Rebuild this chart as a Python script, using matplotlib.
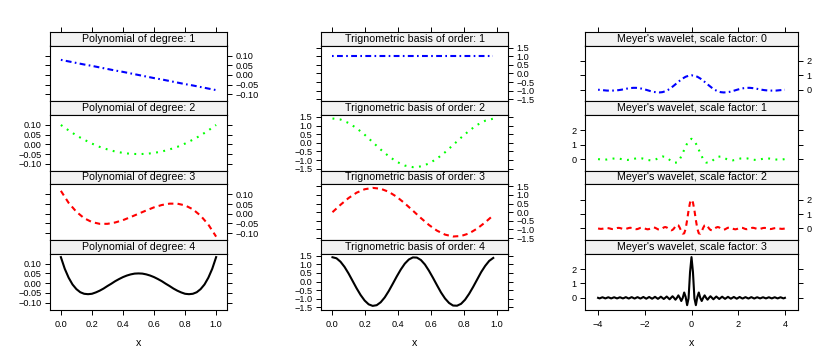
import numpy as np
import matplotlib
matplotlib.use('Agg')
import matplotlib.pyplot as plt

plt.rcParams['font.family'] = ['Liberation Sans', 'DejaVu Sans']

# polynomial basis, x = 0 .. 1 (step 0.05, degree 4 on step 0.025)
x_poly = np.linspace(0, 1, 21)
x_poly_fine = np.linspace(0, 1, 41)
poly_1 = [0.078, 0.070, 0.062, 0.054, 0.047, 0.039, 0.031, 0.023, 0.016, 0.008, 0.0,
          -0.008, -0.016, -0.023, -0.031, -0.039, -0.047, -0.054, -0.062, -0.070, -0.078]
poly_2 = [0.100, 0.072, 0.046, 0.024, 0.004, -0.013, -0.026, -0.037, -0.044, -0.049, -0.050,
          -0.049, -0.044, -0.037, -0.026, -0.013, 0.004, 0.024, 0.046, 0.072, 0.100]
poly_3 = [0.118, 0.056, 0.010, -0.023, -0.043, -0.052, -0.052, -0.045, -0.033, -0.017, 0.0,
          0.017, 0.033, 0.045, 0.052, 0.052, 0.043, 0.023, -0.010, -0.056, -0.118]
poly_4 = [0.134, 0.074, 0.028, -0.007, -0.031, -0.047, -0.055, -0.057, -0.055, -0.048,
          -0.039, -0.028, -0.015, -0.003, 0.010, 0.021, 0.031, 0.039, 0.045, 0.049,
          0.050,
          0.049, 0.045, 0.039, 0.031, 0.021, 0.010, -0.003, -0.015, -0.028, -0.039,
          -0.048, -0.055, -0.057, -0.055, -0.047, -0.031, -0.007, 0.028, 0.074, 0.134]

# trigonometric basis, x = 0 .. 0.98 (order 4 on a grid twice as fine)
x_trig = np.linspace(0, 0.98, 21)
x_trig_fine = np.linspace(0, 0.98, 41)
trig_1 = [1.0] * 21
trig_2 = [1.41, 1.35, 1.15, 0.85, 0.47, 0.04, -0.39, -0.78, -1.10, -1.32, -1.41,
          -1.37, -1.20, -0.92, -0.55, -0.13, 0.30, 0.70, 1.04, 1.28, 1.40]
trig_3 = [0.0, 0.43, 0.82, 1.13, 1.33, 1.41, 1.36, 1.18, 0.89, 0.51, 0.09,
          -0.34, -0.74, -1.07, -1.30, -1.41, -1.38, -1.23, -0.95, -0.59, -0.18]
trig_4 = [1.41, 1.35, 1.15, 0.85, 0.47, 0.04, -0.39, -0.78, -1.10, -1.32, -1.41,
          -1.37, -1.20, -0.92, -0.55, -0.13, 0.30, 0.70, 1.04, 1.28, 1.40,
          1.39, 1.25, 0.99, 0.63, 0.22, -0.21, -0.63, -0.98, -1.24, -1.39,
          -1.40, -1.29, -1.05, -0.71, -0.31, 0.12, 0.55, 0.91, 1.20, 1.37]

# Meyer wavelet, x = -4 .. 4 (coarse step 0.125, fine step 0.0625)
x_mey_coarse = np.linspace(-4, 4, 65)
x_mey_fine = np.linspace(-4, 4, 129)
meyer_0 = [0.0, -0.02, -0.04, -0.06, -0.065, -0.06, -0.05, -0.03, 0.0, 0.04, 0.08, 0.11,
           0.13, 0.13, 0.11, 0.07, 0.02, -0.04, -0.10, -0.15, -0.18, -0.19, -0.17, -0.11,
           -0.01, 0.13, 0.29, 0.46, 0.63, 0.78, 0.90, 0.97,
           1.00,
           0.97, 0.90, 0.78, 0.63, 0.46, 0.29, 0.13, -0.01, -0.11, -0.17, -0.19, -0.18,
           -0.15, -0.10, -0.04, 0.02, 0.07, 0.11, 0.13, 0.13, 0.11, 0.08, 0.04, 0.0,
           -0.03, -0.05, -0.06, -0.065, -0.06, -0.04, -0.02, 0.0]
meyer_1 = [0.0, -0.03, -0.04, -0.03, 0.0, 0.03, 0.05, 0.04, 0.0, -0.04, -0.06, -0.04,
           0.0, 0.05, 0.07, 0.05, 0.0, -0.06, -0.09, -0.07, 0.0, 0.11, 0.18, 0.16,
           0.03, -0.14, -0.25, -0.24, -0.01, 0.41, 0.89, 1.27,
           1.41,
           1.27, 0.89, 0.41, -0.01, -0.24, -0.25, -0.14, 0.03, 0.16, 0.18, 0.11, 0.0,
           -0.07, -0.09, -0.06, 0.0, 0.05, 0.07, 0.05, 0.0, -0.04, -0.06, -0.04, 0.0,
           0.04, 0.05, 0.03, 0.0, -0.03, -0.04, -0.03, 0.0]
meyer_2 = [0.0, -0.02, -0.03, -0.02, 0.0, 0.02, 0.03, 0.02, 0.0, -0.03, -0.04, -0.03,
           0.0, 0.03, 0.04, 0.03, 0.0, -0.03, -0.04, -0.03, 0.0, 0.03, 0.05, 0.03,
           0.0, -0.03, -0.05, -0.04, 0.0, 0.04, 0.05, 0.04, 0.0, -0.04, -0.06, -0.04,
           0.0, 0.05, 0.07, 0.05, 0.0, -0.06, -0.08, -0.06, 0.0, 0.07, 0.10, 0.07,
           0.0, -0.08, -0.13, -0.10, 0.0, 0.16, 0.26, 0.22, 0.04, -0.20, -0.36, -0.34,
           -0.02, 0.58, 1.26, 1.80,
           2.00,
           1.80, 1.26, 0.58, -0.02, -0.34, -0.36, -0.20, 0.04, 0.22, 0.26, 0.16, 0.0,
           -0.10, -0.13, -0.08, 0.0, 0.07, 0.10, 0.07, 0.0, -0.06, -0.08, -0.06, 0.0,
           0.05, 0.07, 0.05, 0.0, -0.04, -0.06, -0.04, 0.0, 0.04, 0.05, 0.04, 0.0,
           -0.04, -0.05, -0.03, 0.0, 0.03, 0.05, 0.03, 0.0, -0.03, -0.04, -0.03, 0.0,
           0.03, 0.04, 0.03, 0.0, -0.03, -0.04, -0.03, 0.0, 0.02, 0.03, 0.02, 0.0,
           -0.02, -0.03, -0.02, 0.0]
meyer_3 = [0.0, -0.04, 0.0, 0.04, 0.0, -0.04, 0.0, 0.04,
           0.0, -0.04, 0.0, 0.04, 0.0, -0.04, 0.0, 0.04,
           0.0, -0.04, 0.0, 0.05, 0.0, -0.05, 0.0, 0.05,
           0.0, -0.05, 0.0, 0.05, 0.0, -0.05, 0.0, 0.06,
           0.0, -0.06, 0.0, 0.06, 0.0, -0.06, 0.0, 0.07,
           0.0, -0.07, 0.0, 0.08, 0.0, -0.08, 0.0, 0.09,
           0.0, -0.10, 0.0, 0.11, 0.0, -0.13, 0.0, 0.17,
           0.0, -0.22, 0.0, 0.37, 0.06, -0.51, -0.03, 1.78,
           2.83,
           1.78, -0.03, -0.51, 0.06, 0.37, 0.0, -0.22, 0.0,
           0.17, 0.0, -0.13, 0.0, 0.11, 0.0, -0.10, 0.0,
           0.09, 0.0, -0.08, 0.0, 0.08, 0.0, -0.07, 0.0,
           0.07, 0.0, -0.06, 0.0, 0.06, 0.0, -0.06, 0.0,
           0.06, 0.0, -0.05, 0.0, 0.05, 0.0, -0.05, 0.0,
           0.05, 0.0, -0.05, 0.0, 0.04, 0.0, -0.04, 0.0,
           0.04, 0.0, -0.04, 0.0, 0.04, 0.0, -0.04, 0.0,
           0.04, 0.0, -0.04, 0.0, 0.04, 0.0, -0.04, 0.0]

poly_titles = ['Polynomial of degree: %d' % i for i in range(1, 5)]
trig_titles = ['Trignometric basis of order: %d' % i for i in range(1, 5)]
meyer_titles = ["Meyer's wavelet, scale factor: %d" % i for i in range(0, 4)]

W, H = 830, 356
fig = plt.figure(figsize=(W / 100, H / 100), dpi=100)

def box(l, t, r, b):
    return [l / W, 1 - b / H, (r - l) / W, (b - t) / H]

colors = ['#0000ff', '#00ff00', '#ff0000', '#000000']
styles = [(0, (0.8, 1.6, 2.8, 1.6)), (0, (0.9, 2.6)), (0, (2.6, 2.0)), '-']

cols = [
    dict(left=50, right=227, xlim=(-0.07, 1.07), ylim=(-0.136, 0.152),
         xticks=[0, 0.2, 0.4, 0.6, 0.8, 1.0], xlabels=['0.0', '0.2', '0.4', '0.6', '0.8', '1.0'],
         yticks=[-0.1, -0.05, 0, 0.05, 0.1], ylabels=['\u22120.10', '\u22120.05', '0.00', '0.05', '0.10'],
         xs=[x_poly, x_poly, x_poly, x_poly_fine], ys=[poly_1, poly_2, poly_3, poly_4],
         titles=poly_titles),
    dict(left=321, right=508, xlim=(-0.07, 1.07), ylim=(-1.62, 1.62),
         xticks=[0, 0.2, 0.4, 0.6, 0.8, 1.0], xlabels=['0.0', '0.2', '0.4', '0.6', '0.8', '1.0'],
         yticks=[-1.5, -1, -0.5, 0, 0.5, 1, 1.5],
         ylabels=['\u22121.5', '\u22121.0', '\u22120.5', '0.0', '0.5', '1.0', '1.5'],
         xs=[x_trig, x_trig, x_trig, x_trig_fine], ys=[trig_1, trig_2, trig_3, trig_4],
         titles=trig_titles),
    dict(left=585, right=798, xlim=(-4.56, 4.56), ylim=(-0.81, 3.07),
         xticks=[-4, -2, 0, 2, 4], xlabels=['\u22124', '\u22122', '0', '2', '4'],
         yticks=[0, 1, 2], ylabels=['0', '1', '2'],
         xs=[x_mey_coarse, x_mey_coarse, x_mey_fine, x_mey_fine],
         ys=[meyer_0, meyer_1, meyer_2, meyer_3], titles=meyer_titles),
]

top = 32
unit = (309.5 - top) / 4
strip_h = 13.5
tick_len = 3.6

for c in cols:
    for r in range(4):
        st = top + r * unit
        sax = fig.add_axes(box(c['left'], st, c['right'], st + strip_h))
        sax.set_facecolor('#f2f2f2')
        sax.set_xlim(c['xlim'])
        sax.set_ylim(0, 1)
        sax.set_yticks([])
        if r == 0:
            sax.set_xticks(c['xticks'])
            sax.tick_params(axis='x', top=True, bottom=False, labeltop=False, labelbottom=False,
                            direction='out', length=tick_len, width=0.7)
        else:
            sax.set_xticks([])
        sax.text(0.5, 0.5, c['titles'][r], transform=sax.transAxes, ha='center', va='center',
                 fontsize=7.7)
        for s in sax.spines.values():
            s.set_linewidth(0.8)

        ax = fig.add_axes(box(c['left'], st + strip_h, c['right'], top + (r + 1) * unit))
        ax.plot(c['xs'][r], c['ys'][r], color=colors[r], linestyle=styles[r], lw=1.5,
                dash_capstyle='butt')
        ax.set_xlim(c['xlim'])
        ax.set_ylim(c['ylim'])
        ax.set_yticks(c['yticks'])
        ax.set_yticklabels(c['ylabels'])
        ax.tick_params(axis='y', left=True, right=True, labelleft=(r % 2 == 1),
                       labelright=(r % 2 == 0), direction='out', length=tick_len, width=0.7,
                       labelsize=6.6, pad=2.5)
        ax.set_xticks(c['xticks'])
        if r == 3:
            ax.set_xticklabels(c['xlabels'])
            ax.tick_params(axis='x', top=False, bottom=True, direction='out', length=tick_len,
                           width=0.7, labelsize=6.6, pad=4)
        else:
            ax.tick_params(axis='x', top=False, bottom=False, labelbottom=False)
        for s in ax.spines.values():
            s.set_linewidth(0.8)

    fig.text((c['left'] + c['right']) / 2 / W, 1 - 343 / H, 'x', ha='center', va='center',
             fontsize=7.7)

fig.savefig('out.png', dpi=100)
